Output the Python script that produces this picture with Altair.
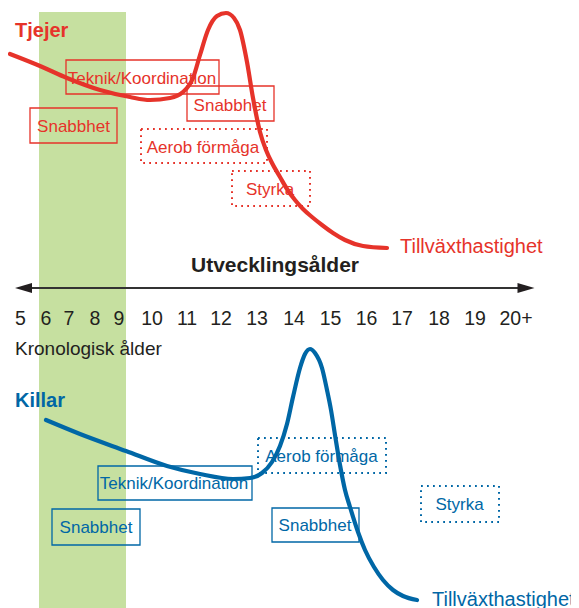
import altair as alt
import pandas as pd

RED = "#e6332a"
BLUE = "#0067a6"
GREEN = "#c6e0a0"
DARK = "#231f20"
FONT = "Liberation Sans"

# ---- age labels on the development axis ----
ages = ["5", "6", "7", "8", "9", "10", "11", "12", "13", "14", "15", "16", "17", "18", "19", "20+"]
age_pos = [20.5, 46, 69, 95, 119, 152, 187, 221, 257, 294, 330.5, 366.5, 402, 439, 475, 516]

# ---- growth velocity curve, girls (Tjejer) ----
red_x = [10, 40, 67, 100, 130, 150, 170, 183, 193, 200, 208, 217, 226, 234, 240, 247, 253, 260, 266,
         272, 280, 287, 295, 303, 312, 322, 333, 345, 363, 387]
red_y = [54, 66, 78, 90, 97, 100, 98, 92, 78, 55, 30, 16, 13, 18, 30, 62, 98, 132, 150,
         163, 177, 189, 200, 209, 217, 225, 233, 240, 246, 248]

# ---- growth velocity curve, boys (Killar) ----
blue_x = [46, 80, 126, 167, 200, 233, 250, 262, 272, 280, 287, 293, 300, 305, 310, 315, 322, 327, 331,
          335, 340, 345, 350, 358, 365, 374, 383, 393, 403, 417]
blue_y = [420, 434, 451, 466, 474, 479, 478, 473, 462, 446, 424, 397, 368, 354, 349, 353, 368, 390, 410,
          435, 465, 490, 507, 532, 550, 567, 580, 590, 596, 600]

# ---- capacity boxes ----
box_group = ["Tjejer"] * 5 + ["Killar"] * 5
box_label = ["Teknik/Koordination", "Snabbhet", "Snabbhet", "Aerob förmåga", "Styrka",
             "Teknik/Koordination", "Snabbhet", "Snabbhet", "Aerob förmåga", "Styrka"]
box_dotted = [False, False, False, True, True, False, False, False, True, True]
box_x1 = [66, 30, 187, 141, 232, 98, 52, 272, 258, 421]
box_x2 = [219, 117, 274, 267, 310, 252, 140, 359, 386, 499]
box_y1 = [60, 108, 86, 129, 171, 466, 509, 508, 438, 486]
box_y2 = [94, 143, 121, 163, 206, 500, 545, 542, 473, 522]
box_tx = [142, 73.5, 230, 203, 270, 174, 96, 315, 321.5, 459.5]
box_ty = [84, 132, 111, 153, 195, 489, 533, 531, 462, 510]

# ---- group titles and curve labels ----
grp_name = ["Tjejer", "Killar"]
grp_title_x = [15, 15]
grp_title_y = [37, 407]
curve_label = ["Tillväxthastighet", "Tillväxthastighet"]
curve_label_x = [400, 432]
curve_label_y = [253, 606]

W, H = 563, 600
xs = alt.Scale(domain=[8, 8 + W], nice=False, zero=False)
ys = alt.Scale(domain=[8, 8 + H], nice=False, zero=False, reverse=True)
col = alt.Scale(domain=["Tjejer", "Killar"], range=[RED, BLUE])


def X(f):
    return alt.X(f, type="quantitative", scale=xs, axis=None)


def Y(f):
    return alt.Y(f, type="quantitative", scale=ys, axis=None)


band = alt.Chart(pd.DataFrame({"x1": [39], "x2": [126], "y1": [12], "y2": [620]})).mark_rect(
    color=GREEN
).encode(x=X("x1"), x2="x2", y=Y("y1"), y2="y2")

boxes = pd.DataFrame({
    "group": box_group, "label": box_label, "dotted": box_dotted,
    "x1": box_x1, "x2": box_x2, "y1": box_y1, "y2": box_y2,
    "tx": box_tx, "ty": box_ty,
})

solid_boxes = alt.Chart(boxes).transform_filter("!datum.dotted").mark_rect(
    fillOpacity=0, strokeWidth=1.3
).encode(x=X("x1"), x2="x2", y=Y("y1"), y2="y2",
         stroke=alt.Stroke("group:N", scale=col, legend=None))

dotted_boxes = alt.Chart(boxes).transform_filter("datum.dotted").mark_rect(
    fillOpacity=0, strokeWidth=2, strokeDash=[1.8, 4.2]
).encode(x=X("x1"), x2="x2", y=Y("y1"), y2="y2",
         stroke=alt.Stroke("group:N", scale=col, legend=None))

box_text = alt.Chart(boxes).mark_text(
    font=FONT, fontSize=17, align="center", baseline="alphabetic"
).encode(x=X("tx"), y=Y("ty"), text="label:N",
         color=alt.Color("group:N", scale=col, legend=None))

curves = pd.concat([
    pd.DataFrame({"group": "Tjejer", "x": red_x, "y": red_y}),
    pd.DataFrame({"group": "Killar", "x": blue_x, "y": blue_y}),
])
curve_lines = alt.Chart(curves).mark_line(
    strokeWidth=4.2, interpolate="monotone", strokeCap="round"
).encode(x=X("x"), y=Y("y"), detail="group:N",
         color=alt.Color("group:N", scale=col, legend=None))

titles = pd.DataFrame({"group": grp_name, "x": grp_title_x, "y": grp_title_y,
                       "lab": curve_label, "lx": curve_label_x, "ly": curve_label_y})
title_text = alt.Chart(titles).mark_text(
    font=FONT, fontSize=20, fontWeight="bold", align="left", baseline="alphabetic"
).encode(x=X("x"), y=Y("y"), text="group:N",
         color=alt.Color("group:N", scale=col, legend=None))
curve_text = alt.Chart(titles).mark_text(
    font=FONT, fontSize=20, align="left", baseline="alphabetic"
).encode(x=X("lx"), y=Y("ly"), text="lab:N",
         color=alt.Color("group:N", scale=col, legend=None))

# development-age arrow
axis_df = pd.DataFrame({"x1": [30], "x2": [520], "y": [288]})
arrow_line = alt.Chart(axis_df).mark_rule(color="#333333", strokeWidth=2).encode(
    x=X("x1"), x2="x2", y=Y("y"))
heads = pd.DataFrame({"x": [23.5, 526], "y": [288, 288],
                      "shape": ["M-1,0L1,-0.6L1,0.6Z", "M1,0L-1,-0.6L-1,0.6Z"]})
arrow_heads = alt.Chart(heads).mark_point(
    filled=True, size=289, opacity=1, color=DARK, strokeWidth=0
).encode(x=X("x"), y=Y("y"), shape=alt.Shape("shape:N", scale=None, legend=None))

axis_title = alt.Chart(pd.DataFrame({"t": ["Utvecklingsålder"], "x": [275], "y": [272]})).mark_text(
    font=FONT, fontSize=21, fontWeight="bold", align="center", baseline="alphabetic", color=DARK
).encode(x=X("x"), y=Y("y"), text="t:N")

age_df = pd.DataFrame({"age": ages, "x": age_pos, "y": [325] * len(ages)})
age_text = alt.Chart(age_df).mark_text(
    font=FONT, fontSize=19.5, align="center", baseline="alphabetic", color=DARK
).encode(x=X("x"), y=Y("y"), text="age:N")

chrono = alt.Chart(pd.DataFrame({"t": ["Kronologisk ålder"], "x": [15], "y": [355]})).mark_text(
    font=FONT, fontSize=19, align="left", baseline="alphabetic", color=DARK
).encode(x=X("x"), y=Y("y"), text="t:N")

chart = alt.layer(
    band, solid_boxes, dotted_boxes, box_text, curve_lines, title_text, curve_text,
    arrow_line, arrow_heads, axis_title, age_text, chrono
).properties(
    width=W, height=H, padding=0, autosize=alt.AutoSizeParams(type="none")
).configure_view(stroke=None)

chart.save("out.html", embed_options={"renderer": "svg", "actions": False})
